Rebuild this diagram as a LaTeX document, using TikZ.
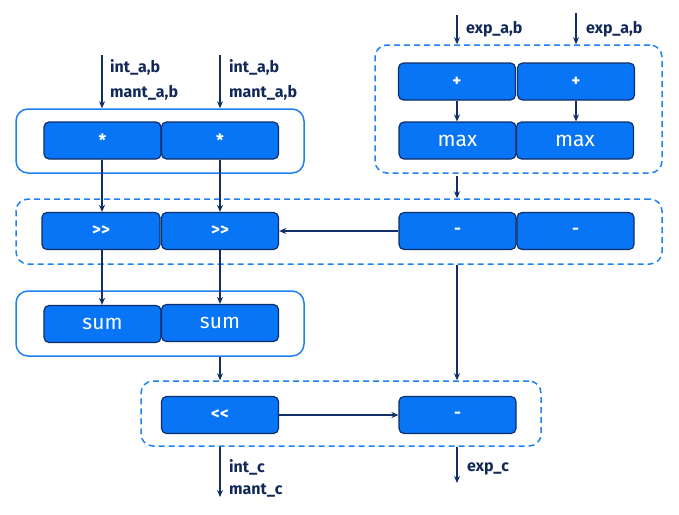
\documentclass[tikz,border=0pt]{standalone}
\usepackage{fontspec}
\setmainfont{Fira Sans}
\usetikzlibrary{arrows.meta}
\definecolor{boxblue}{RGB}{8,116,246}
\definecolor{navy}{RGB}{16,46,104}
\definecolor{grpblue}{RGB}{30,128,242}
\definecolor{txtnavy}{RGB}{18,40,88}
\tikzset{
  opbox/.style={draw=navy, fill=boxblue, line width=1.2pt, rounded corners=5pt,
    minimum width=117pt, minimum height=37pt, inner sep=0pt, text=white,
    font=\fontsize{21}{23}\selectfont},
  symtext/.style={font=\fontsize{17}{19}\selectfont\bfseries},
  grpsolid/.style={draw=grpblue, line width=1.5pt, rounded corners=12pt, inner sep=0pt},
  grpdash/.style={draw=grpblue, line width=1.5pt, rounded corners=12pt, inner sep=0pt,
    dash pattern=on 6pt off 4pt},
  conn/.style={draw=navy, line width=1.4pt, -{Stealth[length=7pt,width=6pt]}},
  lbl/.style={anchor=base west, text=txtnavy, inner sep=0pt,
    font=\fontsize{16}{18}\selectfont\bfseries}
}
\begin{document}
\begin{tikzpicture}[x=1pt,y=-1pt]
\useasboundingbox (0,0) rectangle (679,514);
% groups
\node[grpsolid, minimum width=288pt, minimum height=64pt] (g1) at (160,141) {};
\node[grpdash, minimum width=287pt, minimum height=128pt] (g2) at (518.5,109) {};
\node[grpdash, minimum width=646pt, minimum height=65pt] (g3) at (339,231.5) {};
\node[grpsolid, minimum width=288pt, minimum height=65pt] (g4) at (160,323.5) {};
\node[grpdash, minimum width=400pt, minimum height=65pt] (g5) at (341,413.5) {};
% boxes
\node[opbox, symtext] (m1) at (102.5,140.5) {*};
\node[opbox, symtext] (m2) at (220,140.5) {*};
\node[opbox, symtext] (p1) at (457,81.5) {+};
\node[opbox, symtext] (p2) at (576,81.5) {+};
\node[opbox] (x1) at (457.5,140.5) {max};
\node[opbox] (x2) at (575,140.5) {max};
\node[opbox, symtext, minimum width=118pt] (s1) at (101,231) {>{}>};
\node[opbox, symtext] (s2) at (220,231) {>{}>};
\node[opbox, symtext] (d1) at (457.5,231) {-};
\node[opbox, symtext] (d2) at (575.5,231) {-};
\node[opbox] (u1) at (102.5,324) {sum};
\node[opbox] (u2) at (220,323) {sum};
\node[opbox, symtext] (l1) at (220,415) {<{}<};
\node[opbox, symtext] (r1) at (457.5,415) {-};
% input coordinates
\coordinate (in1) at (102,55);
\coordinate (in2) at (220,55);
\coordinate (in3) at (457,15);
\coordinate (in4) at (576,13);
\coordinate (out1) at (220,497);
\coordinate (out2) at (457,483);
% connectors
\draw[conn] (in1) -- (in1 |- g1.north);
\draw[conn] (in2) -- (in2 |- g1.north);
\draw[conn] (in3) -- (in3 |- g2.north);
\draw[conn] (in4) -- (in4 |- g2.north);
\draw[conn] (p1.south) -- (p1.south |- x1.north);
\draw[conn] (p2.south) -- (p2.south |- x2.north);
\draw[conn] (in1 |- m1.south) -- (in1 |- s1.north);
\draw[conn] (m2.south) -- (s2.north);
\draw[conn] ([yshift=-2pt]in3 |- g2.south) -- (in3 |- g3.north);
\draw[conn] (d1.west) -- (s2.east);
\draw[conn] (in1 |- s1.south) -- (in1 |- u1.north);
\draw[conn] (s2.south) -- (u2.north);
\draw[conn] (out1 |- g4.south) -- (out1 |- g5.north);
\draw[conn] (out2 |- g3.south) -- (out2 |- g5.north);
\draw[conn] (l1.east) -- (l1.east -| r1.west);
\draw[conn] (out1 |- g5.south) -- (out1);
\draw[conn] (out2 |- g5.south) -- (out2);
% labels
\node[lbl] (t1) at (110,72) {int\_a,b};
\node[lbl] (t2) at (110,97) {mant\_a,b};
\node[lbl] (t3) at (229,72) {int\_a,b};
\node[lbl] (t4) at (229,97) {mant\_a,b};
\node[lbl] (t5) at (466,33) {exp\_a,b};
\node[lbl] (t6) at (586,33) {exp\_a,b};
\node[lbl] (t7) at (229,472) {int\_c};
\node[lbl] (t8) at (229,494) {mant\_c};
\node[lbl] (t9) at (467,471) {exp\_c};
\end{tikzpicture}
\end{document}
